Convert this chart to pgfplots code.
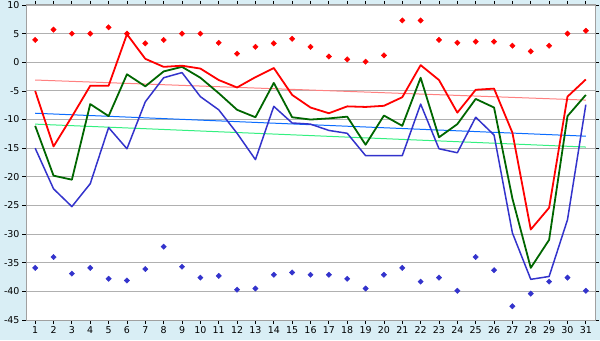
\documentclass[border=0pt]{standalone}
\usepackage{pgfplots}
\pgfplotsset{compat=1.18}
\usepackage{fontspec}
\setmainfont{DejaVu Sans}
\definecolor{bgblue}{HTML}{D9EEF5}
\definecolor{gridgray}{HTML}{B0B0B0}
\definecolor{axgray}{HTML}{A0A0A0}
\definecolor{lred}{HTML}{FF0000}
\definecolor{lgreen}{HTML}{006600}
\definecolor{lblue}{HTML}{3333CC}
\definecolor{tpink}{HTML}{FF8080}
\definecolor{tblue}{HTML}{0A6CFF}
\definecolor{tgreen}{HTML}{33F080}
\begin{document}
\begin{tikzpicture}[x=1bp,y=1bp]
\fill[bgblue] (0,0) rectangle (600,340);
\useasboundingbox (0,0) rectangle (600,340);
\begin{axis}[
  at={(26bp,20bp)}, anchor=south west,
  scale only axis, width=569bp, height=315bp,
  xmin=0.5, xmax=31.5, ymin=-45, ymax=10,
  xtick={1,...,31}, ytick={-45,-40,...,10},
  yticklabels={-45,-40,-35,-30,-25,-20,-15,-10,-5,0,5,10},
  xticklabels={1,2,3,4,5,6,7,8,9,10,11,12,13,14,15,16,17,18,19,20,21,22,23,24,25,26,27,28,29,30,31},
  tick label style={font=\fontsize{9.5}{11}\selectfont, text=black},
  tick align=outside, major tick length=4bp,
  every tick/.style={black, line width=0.8pt},
  ymajorgrids, grid style={gridgray, line width=0.9pt},
  axis line style={axgray, line width=1pt},
  axis background/.style={fill=white},
  xticklabel style={yshift=1bp},
  yticklabel style={xshift=1bp},
  clip=false,
]
% trend lines
\addplot[tpink, line width=1pt] coordinates {(1,-3.1) (31,-6.6)};
\addplot[tblue, line width=1pt] coordinates {(1,-8.9) (31,-12.9)};
\addplot[tgreen, line width=1pt] coordinates {(1,-10.8) (31,-14.8)};
% blue line
\addplot[lblue, line width=1.5pt, line join=round] coordinates {
(1,-15.0)(2,-22.1)(3,-25.2)(4,-21.2)(5,-11.4)(6,-15.1)(7,-6.9)(8,-2.7)(9,-1.8)(10,-6.0)
(11,-8.3)(12,-12.4)(13,-17.0)(14,-7.7)(15,-10.6)(16,-10.8)(17,-11.9)(18,-12.4)(19,-16.3)(20,-16.3)
(21,-16.3)(22,-7.3)(23,-15.1)(24,-15.8)(25,-9.6)(26,-12.7)(27,-29.8)(28,-37.9)(29,-37.4)(30,-27.5)(31,-7.4)};
% green line
\addplot[lgreen, line width=1.8pt, line join=round] coordinates {
(1,-11.1)(2,-19.8)(3,-20.5)(4,-7.3)(5,-9.4)(6,-2.1)(7,-4.2)(8,-1.6)(9,-0.8)(10,-2.7)
(11,-5.4)(12,-8.3)(13,-9.6)(14,-3.6)(15,-9.6)(16,-10.0)(17,-9.8)(18,-9.5)(19,-14.4)(20,-9.3)
(21,-11.1)(22,-2.7)(23,-13.1)(24,-10.8)(25,-6.4)(26,-7.9)(27,-23.8)(28,-35.9)(29,-31.0)(30,-9.4)(31,-5.7)};
% red line
\addplot[lred, line width=1.8pt, line join=round] coordinates {
(1,-5.0)(2,-14.7)(3,-9.5)(4,-4.1)(5,-4.1)(6,4.9)(7,0.6)(8,-0.8)(9,-0.6)(10,-1.1)
(11,-3.1)(12,-4.4)(13,-2.6)(14,-1.0)(15,-5.7)(16,-7.9)(17,-8.9)(18,-7.7)(19,-7.8)(20,-7.6)
(21,-6.1)(22,-0.5)(23,-3.1)(24,-8.8)(25,-4.8)(26,-4.6)(27,-12.3)(28,-29.2)(29,-25.4)(30,-6.0)(31,-3.0)};
% red markers
\addplot[only marks, lred, mark=square*, mark options={rotate=45}, mark size=1.9bp] coordinates {
(1,3.9)(2,5.7)(3,5.0)(4,5.0)(5,6.1)(6,5.0)(7,3.3)(8,3.9)(9,5.0)(10,5.0)
(11,3.4)(12,1.5)(13,2.7)(14,3.3)(15,4.1)(16,2.7)(17,1.0)(18,0.5)(19,0.1)(20,1.2)
(21,7.3)(22,7.3)(23,3.9)(24,3.4)(25,3.6)(26,3.6)(27,2.9)(28,1.9)(29,2.9)(30,5.0)(31,5.5)};
% blue markers
\addplot[only marks, lblue, mark=square*, mark options={rotate=45}, mark size=1.9bp] coordinates {
(1,-35.9)(2,-34.0)(3,-36.9)(4,-35.9)(5,-37.8)(6,-38.1)(7,-36.1)(8,-32.2)(9,-35.7)(10,-37.6)
(11,-37.3)(12,-39.7)(13,-39.5)(14,-37.1)(15,-36.7)(16,-37.1)(17,-37.1)(18,-37.8)(19,-39.5)(20,-37.1)
(21,-35.9)(22,-38.3)(23,-37.6)(24,-39.9)(25,-34.0)(26,-36.3)(27,-42.6)(28,-40.4)(29,-38.3)(30,-37.6)(31,-39.9)};
\end{axis}
\end{tikzpicture}
\end{document}
